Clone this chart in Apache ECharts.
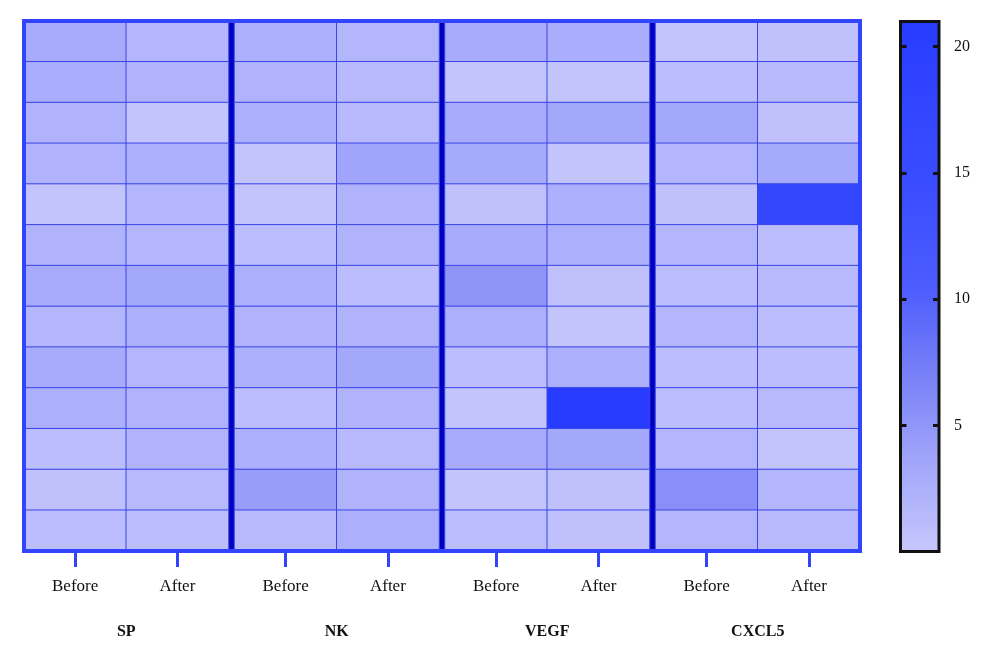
<!DOCTYPE html>
<html>
<head>
<meta charset="utf-8">
<script src="https://cdn.jsdelivr.net/npm/echarts@6/dist/echarts.min.js"></script>
<style>
  body { margin: 0; background: #fff; }
  #main { width: 1000px; height: 660px; }
</style>
</head>
<body>
<div id="main"></div>
<script>
// DATA
var groups = ['SP', 'NK', 'VEGF', 'CXCL5'];
var phases = ['Before', 'After'];
var rowNames = ['1', '2', '3', '4', '5', '6', '7', '8', '9', '10', '11', '12', '13'];
var scaleMin = 0, scaleMax = 21, scaleStep = 5;

var spBefore    = [2.9, 2.7, 2.1, 2.1, 0.2, 2.1, 2.9, 1.8, 2.9, 2.5, 1.0, 0.6, 1.0];
var spAfter     = [1.8, 2.1, 0.2, 2.5, 1.8, 1.8, 3.3, 2.5, 1.8, 2.1, 2.1, 1.4, 1.0];
var nkBefore    = [2.5, 2.1, 2.5, 0.2, 0.2, 1.0, 2.5, 2.1, 2.5, 1.0, 2.5, 4.3, 1.4];
var nkAfter     = [1.8, 1.4, 1.4, 3.7, 2.1, 2.1, 1.0, 2.1, 3.3, 2.1, 1.4, 2.1, 2.5];
var vegfBefore  = [2.9, 0.2, 2.9, 3.1, 0.6, 2.9, 5.2, 2.5, 1.0, 0.2, 2.9, 0.2, 1.0];
var vegfAfter   = [2.7, 0.2, 3.3, 0.2, 2.5, 2.5, 0.6, 0.2, 2.5, 21,  3.3, 0.6, 0.6];
var cxcl5Before = [0.2, 1.0, 3.3, 1.8, 0.6, 1.8, 1.0, 1.8, 1.0, 1.0, 1.8, 5.6, 1.8];
var cxcl5After  = [0.6, 1.4, 0.6, 3.1, 17,  1.0, 1.4, 1.0, 1.0, 1.4, 0.2, 1.8, 1.4];

var groupValues = [
    [spBefore, spAfter],
    [nkBefore, nkAfter],
    [vegfBefore, vegfAfter],
    [cxcl5Before, cxcl5After]
];

// LAYOUT
var plotLeft = 24, plotTop = 21, plotW = 836, plotH = 530, gap = 6;
var groupW = (plotW - gap * 3) / 4;
var serif = '"Liberation Serif", "DejaVu Serif", serif';

var grids = [], xAxes = [], yAxes = [], series = [];

for (var g = 0; g < groups.length; g++) {
    grids.push({ left: plotLeft + g * (groupW + gap), top: plotTop, width: groupW, height: plotH });
    xAxes.push({
        gridIndex: g, type: 'category', data: phases,
        axisLine: { show: false },
        axisTick: { show: true, alignWithLabel: true, length: 16, lineStyle: { color: '#3344ff', width: 3 } },
        axisLabel: { margin: 27, fontSize: 17, color: '#111', fontFamily: serif },
        name: groups[g], nameLocation: 'middle', nameGap: 73,
        nameTextStyle: { fontSize: 16, fontWeight: 'bold', color: '#111', fontFamily: serif },
        splitLine: { show: false }
    });
    yAxes.push({ gridIndex: g, type: 'category', data: rowNames, inverse: true, show: false });

    var data = [];
    for (var p = 0; p < phases.length; p++) {
        for (var r = 0; r < rowNames.length; r++) {
            data.push([p, r, groupValues[g][p][r]]);
        }
    }
    series.push({
        type: 'heatmap', xAxisIndex: g, yAxisIndex: g, data: data,
        itemStyle: { borderColor: '#3a46e6', borderWidth: 1 },
        emphasis: { disabled: true }
    });
}

// navy separators (background) and bright outer frame
grids.push({ left: plotLeft, top: plotTop, width: plotW, height: plotH, show: true, backgroundColor: '#0000c0', borderWidth: 0, z: 0 });
grids.push({ left: plotLeft, top: plotTop, width: plotW, height: plotH, show: true, backgroundColor: 'transparent', borderColor: '#3344ff', borderWidth: 4, z: 10 });
// colour bar frame
grids.push({ left: 900.5, top: 21.5, width: 38.5, height: 530, show: true, backgroundColor: 'transparent', borderColor: '#111', borderWidth: 3, z: 10 });

for (var k = 4; k <= 6; k++) {
    xAxes.push({ gridIndex: k, type: 'value', show: false });
}
yAxes.push({ gridIndex: 4, type: 'value', show: false });
yAxes.push({ gridIndex: 5, type: 'value', show: false });
yAxes.push({
    gridIndex: 6, type: 'value', min: scaleMin, max: scaleMax, interval: scaleStep, position: 'left', z: 12,
    axisLine: { show: false }, splitLine: { show: false }, axisLabel: { show: false },
    axisTick: { show: true, inside: true, length: 6, lineStyle: { color: '#111', width: 3 } }
});
yAxes.push({
    gridIndex: 6, type: 'value', min: scaleMin, max: scaleMax, interval: scaleStep, position: 'right', z: 12,
    axisLine: { show: false }, splitLine: { show: false },
    axisTick: { show: true, inside: true, length: 6, lineStyle: { color: '#111', width: 3 } },
    axisLabel: { show: true, showMinLabel: false, showMaxLabel: false, margin: 15, fontSize: 16, color: '#111', fontFamily: serif }
});

var myChart = echarts.init(document.getElementById('main'));
var option = {
    animation: false,
    backgroundColor: '#fff',
    grid: grids,
    xAxis: xAxes,
    yAxis: yAxes,
    visualMap: {
        type: 'continuous', min: scaleMin, max: scaleMax, seriesIndex: [0, 1, 2, 3],
        left: 901, top: 22, itemWidth: 37, itemHeight: 529, padding: 0,
        calculable: false, orient: 'vertical', hoverLink: false,
        inRange: { color: ['#c6c6fd', '#a2a6fa', '#7880f6', '#4c5cfd', '#3c4eff', '#3246ff', '#283cff'] }
    },
    series: series
};
myChart.setOption(option);
</script>
</body>
</html>
